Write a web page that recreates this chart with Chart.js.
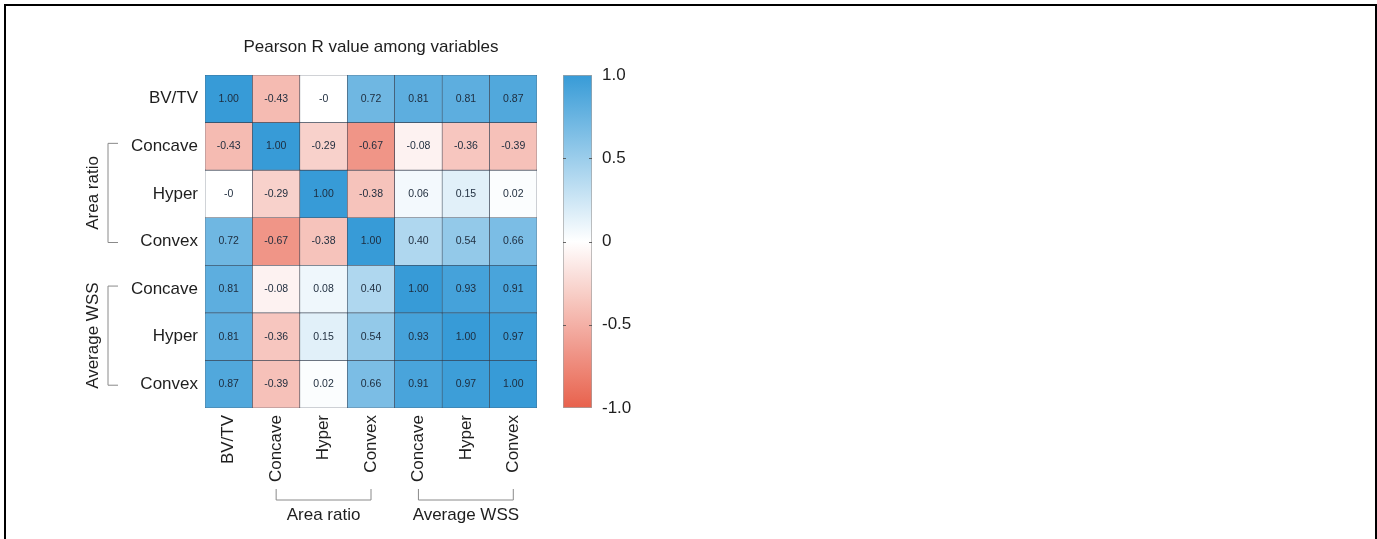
<!DOCTYPE html>
<html>
<head>
<meta charset="utf-8">
<script src="https://cdn.jsdelivr.net/npm/chart.js@4.4.1/dist/chart.umd.min.js"></script>
<style>
  html, body { margin:0; padding:0; background:#fff; width:1377px; height:539px; overflow:hidden; }
  #frame { position:absolute; left:4px; top:4px; width:1373px; height:600px; box-sizing:border-box; border:2px solid #000; border-bottom:none; }
  #main { position:absolute; left:0; top:0; }
  #cbar { position:absolute; left:540px; top:0; }
</style>
</head>
<body>
<div id="frame"></div>
<canvas id="main" width="560" height="539" style="width:560px;height:539px"></canvas>
<canvas id="cbar" width="100" height="539" style="width:100px;height:539px"></canvas>
<script>
// ---- data ----
const titleText = 'Pearson R value among variables';
const rowLabels = ['BV/TV', 'Concave', 'Hyper', 'Convex', 'Concave', 'Hyper', 'Convex'];
const colLabels = ['BV/TV', 'Concave', 'Hyper', 'Convex', 'Concave', 'Hyper', 'Convex'];
const rowBVTV       = [1.00, -0.43, -0,    0.72,  0.81,  0.81, 0.87];
const rowARConcave  = [-0.43, 1.00, -0.29, -0.67, -0.08, -0.36, -0.39];
const rowARHyper    = [-0,   -0.29,  1.00, -0.38,  0.06,  0.15, 0.02];
const rowARConvex   = [0.72, -0.67, -0.38,  1.00,  0.40,  0.54, 0.66];
const rowWSSConcave = [0.81, -0.08,  0.08,  0.40,  1.00,  0.93, 0.91];
const rowWSSHyper   = [0.81, -0.36,  0.15,  0.54,  0.93,  1.00, 0.97];
const rowWSSConvex  = [0.87, -0.39,  0.02,  0.66,  0.91,  0.97, 1.00];
const matrix = [rowBVTV, rowARConcave, rowARHyper, rowARConvex, rowWSSConcave, rowWSSHyper, rowWSSConvex];
const rowGroups = [{label:'Area ratio', from:1, to:3}, {label:'Average WSS', from:4, to:6}];
const colGroups = [{label:'Area ratio', from:1, to:3}, {label:'Average WSS', from:4, to:6}];
const cbRange = [-1, 1];
const cbTicks = [1.0, 0.5, 0, -0.5, -1.0];
const cbTickLabels = ['1.0', '0.5', '0', '-0.5', '-1.0'];

// ---- colours ----
const BLUE = [55, 155, 215], RED = [232, 97, 76], WHITE = [255, 255, 255];
function cmap(v) {
  const t = Math.min(1, Math.abs(v));
  const e = v >= 0 ? BLUE : RED;
  const c = WHITE.map((w, k) => Math.round(w + (e[k] - w) * t));
  return `rgb(${c[0]},${c[1]},${c[2]})`;
}
function fmt(v) { return Object.is(v, -0) ? '-0' : v.toFixed(2); }

const FONT = "'Liberation Sans', Arial, Helvetica, sans-serif";
const TXT = '#1e1e1e';

// ---- main heatmap ----
const cellLabels = {
  id: 'cellLabels',
  afterDatasetsDraw(chart) {
    const ctx = chart.ctx;
    ctx.save();
    ctx.font = `10.5px ${FONT}`;
    ctx.fillStyle = '#1d2b3c';
    ctx.textAlign = 'center';
    ctx.textBaseline = 'middle';
    chart.data.datasets.forEach((ds, i) => {
      chart.getDatasetMeta(i).data.forEach((el, j) => {
        ctx.fillText(fmt(matrix[i][j]), el.x, (el.y + el.base) / 2);
      });
    });
    ctx.restore();
  }
};

const groupBrackets = {
  id: 'groupBrackets',
  afterDraw(chart) {
    const ctx = chart.ctx, a = chart.chartArea;
    const xs = chart.scales.x, ys = chart.scales.y;
    ctx.save();
    ctx.strokeStyle = '#8a8a8a';
    ctx.lineWidth = 1;
    ctx.fillStyle = TXT;
    ctx.font = `17px ${FONT}`;
    ctx.textAlign = 'center';
    ctx.textBaseline = 'middle';
    // left brackets
    const bx = a.left - 97, tx = a.left - 87, lx = a.left - 112;
    rowGroups.forEach(g => {
      const y1 = ys.getPixelForValue(g.from + 0.5) - 3;
      const y2 = ys.getPixelForValue(g.to + 0.5) + 1;
      ctx.beginPath();
      ctx.moveTo(tx, y1); ctx.lineTo(bx, y1); ctx.lineTo(bx, y2); ctx.lineTo(tx, y2);
      ctx.stroke();
      ctx.save();
      ctx.translate(lx, (y1 + y2) / 2);
      ctx.rotate(-Math.PI / 2);
      ctx.fillText(g.label, 0, 0);
      ctx.restore();
    });
    // bottom brackets
    const by = a.bottom + 92, ty = a.bottom + 81, ly = a.bottom + 107;
    colGroups.forEach(g => {
      const x1 = xs.getPixelForValue(g.from);
      const x2 = xs.getPixelForValue(g.to);
      ctx.beginPath();
      ctx.moveTo(x1, ty); ctx.lineTo(x1, by); ctx.lineTo(x2, by); ctx.lineTo(x2, ty);
      ctx.stroke();
      ctx.fillText(g.label, (x1 + x2) / 2, ly);
    });
    ctx.restore();
  }
};

new Chart(document.getElementById('main'), {
  type: 'bar',
  data: {
    labels: colLabels,
    datasets: matrix.map((row, i) => ({
      label: rowLabels[i],
      data: row.map(() => 1),
      backgroundColor: row.map(cmap),
      borderColor: 'rgba(38,48,66,0.85)',
      borderWidth: 0.6,
      borderSkipped: false,
      barPercentage: 1,
      categoryPercentage: 1
    }))
  },
  options: {
    responsive: false,
    animation: false,
    devicePixelRatio: 1,
    layout: { padding: { left: 0, right: 23, top: 0, bottom: 0 } },
    plugins: {
      legend: { display: false },
      tooltip: { enabled: false },
      title: {
        display: true,
        text: titleText,
        fullSize: false,
        color: TXT,
        font: { family: FONT, size: 17, weight: 'normal', lineHeight: 1.2 },
        padding: { top: 37, bottom: 17.6 }
      }
    },
    scales: {
      x: {
        stacked: true,
        grid: { display: false, drawTicks: false },
        border: { display: false },
        ticks: {
          color: TXT, font: { family: FONT, size: 17 },
          minRotation: 90, maxRotation: 90, padding: 7, autoSkip: false
        },
        afterFit(s) { s.height = 131; }
      },
      y: {
        stacked: true,
        min: 0, max: 7, reverse: true,
        grid: { display: false, drawTicks: false },
        border: { display: false },
        afterBuildTicks(s) { s.ticks = rowLabels.map((_, i) => ({ value: i + 0.5 })); },
        ticks: {
          color: TXT, font: { family: FONT, size: 17 }, padding: 7, autoSkip: false,
          callback: (v, idx) => rowLabels[idx]
        },
        afterFit(s) { s.width = 205; }
      }
    }
  },
  plugins: [cellLabels, groupBrackets]
});

// ---- colour bar ----
const cbMarks = {
  id: 'cbMarks',
  afterDatasetsDraw(chart) {
    const ctx = chart.ctx, a = chart.chartArea, ys = chart.scales.y;
    ctx.save();
    ctx.strokeStyle = 'rgba(70,70,70,0.8)';
    ctx.lineWidth = 1;
    cbTicks.forEach(v => {
      if (v === cbRange[0] || v === cbRange[1]) return;
      const y = Math.round(ys.getPixelForValue(v)) + 0.5;
      ctx.beginPath();
      ctx.moveTo(a.left, y); ctx.lineTo(a.left + 3, y);
      ctx.moveTo(a.right - 3, y); ctx.lineTo(a.right, y);
      ctx.stroke();
    });
    ctx.restore();
  }
};

new Chart(document.getElementById('cbar'), {
  type: 'bar',
  data: {
    labels: [''],
    datasets: [{
      data: [cbRange],
      backgroundColor(c) {
        const a = c.chart.chartArea;
        if (!a) return 'white';
        const ys = c.chart.scales.y;
        const g = c.chart.ctx.createLinearGradient(0, ys.getPixelForValue(cbRange[0]), 0, ys.getPixelForValue(cbRange[1]));
        for (let k = 0; k <= 20; k++) {
          const v = cbRange[0] + (cbRange[1] - cbRange[0]) * k / 20;
          g.addColorStop(k / 20, cmap(v));
        }
        return g;
      },
      borderColor: 'rgba(100,100,100,0.6)',
      borderWidth: 1,
      borderSkipped: false,
      barPercentage: 1,
      categoryPercentage: 1
    }]
  },
  options: {
    responsive: false,
    animation: false,
    devicePixelRatio: 1,
    layout: { padding: { left: 23, right: 0, top: 75, bottom: 131 } },
    plugins: { legend: { display: false }, tooltip: { enabled: false }, title: { display: false } },
    scales: {
      x: { display: false },
      y: {
        position: 'right',
        min: cbRange[0], max: cbRange[1],
        grid: { display: false, drawTicks: false },
        border: { display: false },
        afterBuildTicks(s) { s.ticks = cbTicks.map(v => ({ value: v })); },
        ticks: {
          color: TXT, font: { family: FONT, size: 17 }, padding: 10,
          callback: (v, idx) => cbTickLabels[idx]
        },
        afterFit(s) { s.width = 48; }
      }
    }
  },
  plugins: [cbMarks]
});
</script>
</body>
</html>
